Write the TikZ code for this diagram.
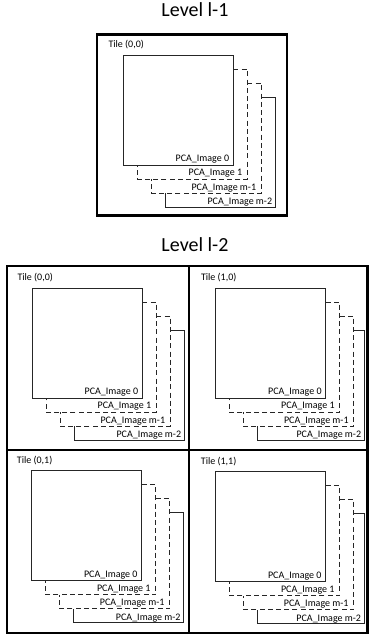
\documentclass[tikz,border=0pt]{standalone}
\usepackage{fontspec}
\setmainfont{Carlito}
\tikzset{
  frame/.style={line width=2.6pt, draw=black},
  img/.style={line width=0.9pt, draw=black!85},
  dashedlayer/.style={img, dash pattern=on 5pt off 3.2pt},
  imglabel/.style={font=\fontsize{10}{12}\selectfont, inner sep=0pt, anchor=base east},
  tilelabel/.style={font=\fontsize{10}{12}\selectfont, inner sep=0pt, anchor=base west},
  leveltitle/.style={font=\fontsize{20}{24}\selectfont, inner sep=0pt, anchor=base},
}
\newcommand\pcastack[5]{% name, x, y, tile label, right edge of m-2
  \begin{scope}[shift={(#2,#3)}]
    \node[tilelabel] (#1t) at (-15,-7.5) {#4};
    \draw[img] (0,0) rectangle (110,110);
    \node[imglabel] (#1i0) at (106,106.5) {PCA\_Image 0};
    \draw[dashedlayer] (110,14) -| (124,124) -| (14,110);
    \node[imglabel] (#1i1) at (119,120.5) {PCA\_Image 1};
    \draw[dashedlayer] (124,28) -| (138,138) -| (28,124);
    \node[imglabel] (#1i2) at (133,135) {PCA\_Image m-1};
    \draw[img] (138,42) -| (#5,152) -| (42,138);
    \node[imglabel] (#1i3) at (#5-3,149.5) {PCA\_Image m-2};
  \end{scope}
}
\begin{document}
\begin{tikzpicture}[x=1pt,y=-1pt]
  \useasboundingbox (0,0) rectangle (369,637);
  % Level l-1
  \node[leveltitle] (title1) at (195,16.7) {Level l-1};
  \draw[frame] (97,34.5) rectangle (287,215.5);
  \pcastack{a}{123.3}{55}{Tile (0,0)}{152}
  % Level l-2
  \node[leveltitle] (title2) at (195,251) {Level l-2};
  \draw[frame] (7,266) rectangle (367.5,633);
  \draw[frame] (189,266) -- (189,633);
  \draw[frame] (7,450) -- (367.5,450);
  \pcastack{b}{32.3}{288.3}{Tile (0,0)}{152}
  \pcastack{c}{215.8}{288.3}{Tile (1,0)}{148.5}
  \pcastack{d}{31.7}{470.7}{Tile (0,1)}{152}
  \pcastack{e}{215.7}{471.5}{Tile (1,1)}{148.5}
\end{tikzpicture}
\end{document}
